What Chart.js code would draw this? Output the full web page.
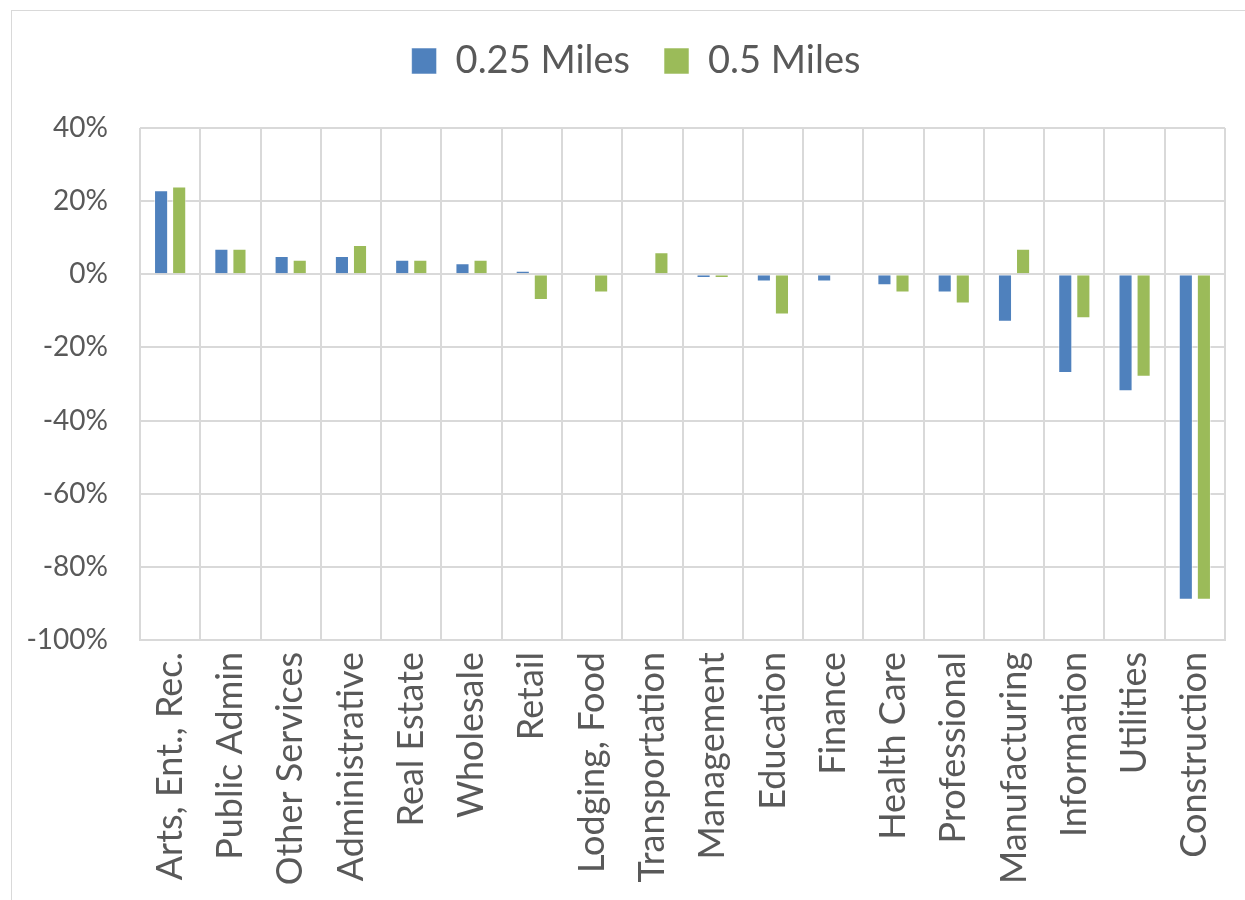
<!DOCTYPE html>
<html>
<head>
<meta charset="utf-8">
<script src="https://cdn.jsdelivr.net/npm/chart.js@4/dist/chart.umd.min.js"></script>
<style>
  html, body { margin: 0; padding: 0; background: #fff; }
  #wrap { position: relative; width: 1245px; height: 900px; overflow: hidden; }
  #frame { position: absolute; left: 11px; top: 10px; width: 1240px; height: 900px;
           border: 1.5px solid #d9d9d9; box-sizing: border-box; }
  canvas { position: absolute; left: 0; top: 0; }
</style>
</head>
<body>
<div id="wrap">
  <div id="frame"></div>
  <canvas id="chart" width="1245" height="900"></canvas>
</div>
<script>
// Industry sectors, ordered as plotted
const categories = [
  'Arts, Ent., Rec.', 'Public Admin', 'Other Services', 'Administrative',
  'Real Estate', 'Wholesale', 'Retail', 'Lodging, Food', 'Transportation',
  'Management', 'Education', 'Finance', 'Health Care', 'Professional',
  'Manufacturing', 'Information', 'Utilities', 'Construction'
];

// Percent change by distance band
const quarterMile = [23, 7, 5, 5, 4, 3, 1, 0, 0, -1, -2, -2, -3, -5, -13, -27, -32, -89];
const halfMile    = [24, 7, 4, 8, 4, 4, -7, -5, 6, -1, -11, 0, -5, -8, 7, -12, -28, -89];

const seriesNames = ['0.25 Miles', '0.5 Miles'];

// Value axis ticks
const yTicks = [40, 20, 0, -20, -40, -60, -80, -100];

const textColor = '#595959';
const gridColor = '#d9d9d9';
const fontFamily = 'Lato, "Open Sans", sans-serif';

// Fixed legend band height, and a small horizontal nudge of the legend row
const legendHeightPlugin = {
  id: 'legendHeight',
  beforeLayout(chart) {
    const lg = chart.legend;
    if (lg && !lg._fixedFit) {
      const orig = lg.fit.bind(lg);
      lg.fit = function () { orig(); this.height = 120; };
      lg._fixedFit = true;
    }
  },
  afterLayout(chart) {
    const lg = chart.legend;
    if (lg) { lg.left += 18; lg.right += 18; }
  }
};

new Chart(document.getElementById('chart'), {
  type: 'bar',
  data: {
    labels: categories,
    datasets: [
      { label: seriesNames[0], data: quarterMile, backgroundColor: '#4f81bd',
        borderColor: 'rgba(255,255,255,0.55)', borderWidth: 1,
        categoryPercentage: 0.6, barPercentage: 0.78 },
      { label: seriesNames[1], data: halfMile, backgroundColor: '#9bbb59',
        borderColor: 'rgba(255,255,255,0.55)', borderWidth: 1,
        categoryPercentage: 0.6, barPercentage: 0.78 }
    ]
  },
  plugins: [legendHeightPlugin],
  options: {
    responsive: false,
    animation: false,
    layout: { padding: { left: 11, right: 20, top: 8, bottom: 0 } },
    plugins: {
      legend: {
        position: 'top',
        align: 'center',
        labels: {
          color: textColor,
          font: { family: fontFamily, size: 38 },
          boxWidth: 25,
          boxHeight: 26,
          padding: 34
        }
      },
      tooltip: { enabled: false }
    },
    scales: {
      x: {
        grid: { color: gridColor, lineWidth: 2, offset: true, drawTicks: false },
        border: { color: gridColor, width: 2 },
        ticks: {
          color: textColor,
          font: { family: fontFamily, size: 36 },
          minRotation: 90, maxRotation: 90,
          autoSkip: false,
          padding: 12
        },
        afterFit(scale) {
          scale.height = 260;
          scale.paddingLeft = 0;
          scale.paddingRight = 0;
        }
      },
      y: {
        min: -100, max: 40,
        afterBuildTicks(scale) { scale.ticks = yTicks.map(v => ({ value: v })); },
        grid: { color: gridColor, lineWidth: 2, drawTicks: false },
        border: { display: false },
        ticks: {
          color: textColor,
          font: { family: fontFamily, size: 28 },
          padding: 32,
          callback: v => v + '%'
        },
        afterFit(scale) { scale.width = 129; }
      }
    }
  }
});
</script>
</body>
</html>
